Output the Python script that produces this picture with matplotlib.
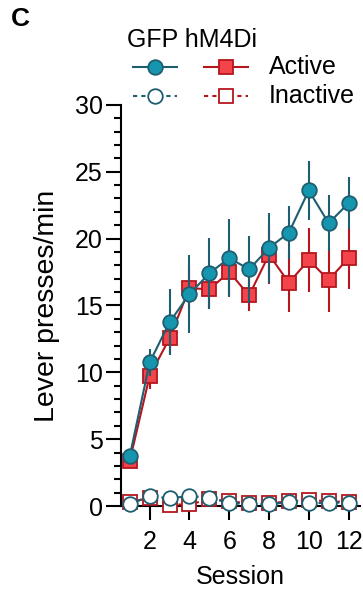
import matplotlib
matplotlib.use('Agg')
import matplotlib.pyplot as plt
from matplotlib.lines import Line2D
from matplotlib.ticker import MultipleLocator

# lever presses per minute across sessions
plt.rcParams['font.family'] = ['Liberation Sans', 'DejaVu Sans']

sessions = [1, 2, 3, 4, 5, 6, 7, 8, 9, 10, 11, 12]

gfp_active = [3.75, 10.75, 13.75, 15.85, 17.4, 18.55, 17.7, 19.3, 20.45, 23.6, 21.15, 22.65]
gfp_active_err = [0.5, 1.0, 2.45, 2.9, 2.65, 2.9, 2.5, 2.6, 2.0, 2.2, 2.1, 1.95]
hm4_active = [3.4, 9.75, 12.55, 16.3, 16.2, 17.5, 15.75, 18.8, 16.7, 18.4, 16.9, 18.55]
hm4_active_err = [0.5, 1.0, 1.2, 1.5, 1.5, 1.8, 1.2, 2.2, 2.2, 2.4, 2.4, 2.3]

gfp_inactive = [0.12, 0.75, 0.57, 0.75, 0.62, 0.25, 0.12, 0.12, 0.3, 0.2, 0.25, 0.25]
hm4_inactive = [0.3, 0.6, 0.1, 0.12, 0.5, 0.35, 0.2, 0.2, 0.35, 0.45, 0.35, 0.3]

teal_fill = '#1696AE'
teal_edge = '#1E5E70'
red_fill = '#F2444A'
red_edge = '#B5161E'

fs = 18

fig = plt.figure(figsize=(3.63, 5.96), dpi=100)
ax = fig.add_axes([0.333, 0.151, 0.66, 0.673])

ms = 10.5
# hM4Di
ax.errorbar(sessions, hm4_active, yerr=hm4_active_err, color=red_edge, lw=1.5,
            elinewidth=1.5, capsize=0, marker='s', ms=ms, mfc=red_fill, mec=red_edge,
            mew=1.3, clip_on=False, zorder=3)
ax.plot(sessions, hm4_inactive, color=red_edge, lw=1.5, ls=(0, (2, 2)), marker='s', ms=ms,
        mfc='white', mec=red_edge, mew=1.3, clip_on=False, zorder=3)
# GFP
ax.errorbar(sessions, gfp_active, yerr=gfp_active_err, color=teal_edge, lw=1.5,
            elinewidth=1.5, capsize=0, marker='o', ms=ms, mfc=teal_fill, mec=teal_edge,
            mew=1.3, clip_on=False, zorder=4)
ax.plot(sessions, gfp_inactive, color=teal_edge, lw=1.5, ls=(0, (2, 2)), marker='o', ms=ms,
        mfc='white', mec=teal_edge, mew=1.3, clip_on=False, zorder=4)

ax.set_xlim(0.55, 12.6)
ax.set_ylim(0, 30)
ax.set_xticks([2, 4, 6, 8, 10, 12])
ax.set_yticks([0, 5, 10, 15, 20, 25, 30])
ax.yaxis.set_minor_locator(MultipleLocator(1))
for s in ['top', 'right']:
    ax.spines[s].set_visible(False)
for s in ['left', 'bottom']:
    ax.spines[s].set_linewidth(1.5)
ax.tick_params(axis='y', which='major', length=11, width=1.5, labelsize=fs, pad=2)
ax.tick_params(axis='y', which='minor', length=5, width=1.5)
ax.tick_params(axis='x', which='major', length=10, width=1.5, labelsize=fs, pad=7)
ax.set_xlabel('Session', fontsize=fs, labelpad=8)
ax.set_ylabel('Lever presses/min', fontsize=20.5, labelpad=11)

# manual legend
def fx(px):
    return px / 363.0

def fy(py):
    return 1 - py / 596.0

fig.text(fx(127), fy(40), 'GFP hM4Di', fontsize=fs, va='center', ha='left')
rows = [(67, '-', teal_fill, red_fill, 'Active'), (96, (0, (2, 2)), 'white', 'white', 'Inactive')]
for py, ls, tf, rf, lab in rows:
    fig.add_artist(Line2D([fx(133), fx(177)], [fy(py), fy(py)], color=teal_edge, lw=1.5, ls=ls))
    fig.add_artist(Line2D([fx(155)], [fy(py)], marker='o', ms=ms, mfc=tf, mec=teal_edge, mew=1.3))
    fig.add_artist(Line2D([fx(204), fx(248)], [fy(py), fy(py)], color=red_edge, lw=1.5, ls=ls))
    fig.add_artist(Line2D([fx(226)], [fy(py)], marker='s', ms=ms, mfc=rf, mec=red_edge, mew=1.3))
    fig.text(fx(269), fy(py), lab, fontsize=fs, va='center', ha='left')

fig.text(fx(11), fy(19), 'C', fontsize=19, fontweight='bold', va='center', ha='left')

fig.savefig('out.png', dpi=100)
